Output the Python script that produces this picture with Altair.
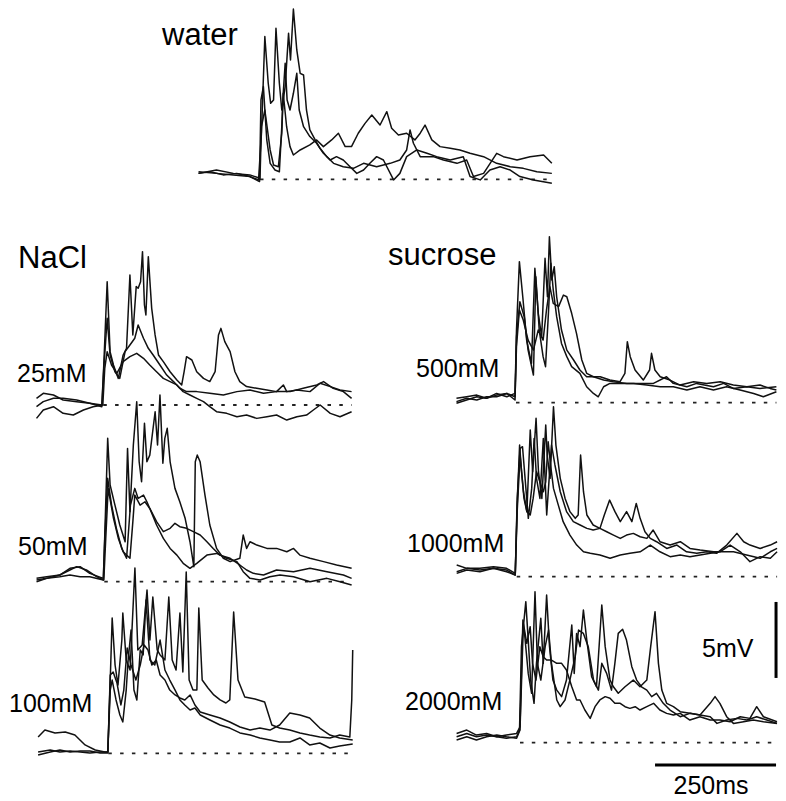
import altair as alt
import pandas as pd

FONT = "Liberation Sans, Arial, Helvetica, sans-serif"
K = 121 / 250.0   # px per ms
M = 76 / 5.0      # px per mV
W, H = 770, 781

# ---------------- data: time (ms from stimulus onset), potential (mV) ----------------
water_a = [(-127,0.39),(-103,0.50),(-76,0.29),(-48,0.39),(-21,0.18),(-3,-0.04),(3,3.03),(10,9.39),(17,6.32),(22,5.0),(28,5.22),(33,9.93),(40,6.32),(45,4.56),(52,6.10),(59,9.61),(63,7.85),(69,11.2),(76,8.51),(83,6.97),(90,6.86),(96,4.56),(103,3.25),(114,2.59),(124,2.04),(138,1.49),(152,1.05),(172,0.83),(193,0.72),(214,1.05),(241,0.83),(269,1.05),(289,1.27),(303,1.93),(310,3.25),(317,2.37),(331,1.49),(358,1.49),(379,1.27),(407,1.05),(427,1.27),(441,0.18),(462,0.39),(489,1.71),(503,1.49),(531,1.27),(558,1.49),(586,1.60),(603,1.05)]
water_b = [(-127,0.50),(-90,0.39),(-55,0.29),(-21,0.18),(-1,-0.15),(2,5.22),(7,6.10),(14,2.59),(21,1.05),(31,0.61),(40,0.50),(45,3.46),(48,5.66),(52,7.63),(56,5.22),(62,4.56),(69,5.66),(76,6.97),(81,4.56),(90,3.46),(103,2.81),(117,2.37),(131,1.71),(145,1.27),(158,1.49),(172,1.27),(186,0.83),(200,0.39),(214,0.61),(227,1.05),(241,1.49),(255,1.27),(276,-0.04),(289,0.39),(303,1.49),(324,1.93),(345,1.71),(365,1.49),(393,1.27),(420,1.49),(434,0.18),(455,-0.04),(475,0.61),(496,0.83),(517,0.61),(537,0.18),(565,-0.04),(603,-0.26)]
water_c = [(-127,0.39),(-90,0.61),(-55,0.39),(-21,0.29),(0,0.07),(3,3.46),(10,4.56),(21,1.93),(28,0.94),(38,0.83),(45,3.03),(48,5.66),(55,3.46),(62,2.15),(69,1.60),(83,1.93),(103,2.26),(117,2.59),(131,2.15),(148,2.59),(162,3.03),(176,2.15),(189,2.15),(203,3.03),(217,3.68),(231,4.23),(248,3.57),(262,4.45),(272,3.36),(286,2.92),(303,3.03),(320,2.59),(331,3.03),(341,3.57),(355,2.59),(372,2.15),(393,2.04),(413,1.93),(434,1.71),(462,1.49),(489,1.05),(517,0.83),(544,0.72),(572,0.50),(603,0.39)]

nacl25_a = [(-138,0.44),(-124,0.77),(-103,0.66),(-83,0.33),(-55,0.22),(-28,0.11),(-3,0.0),(1,2.63),(8,8.11),(14,3.51),(21,2.63),(31,1.75),(41,3.29),(48,3.73),(55,8.55),(61,4.61),(68,7.79),(72,7.68),(77,8.11),(81,10.09),(85,6.58),(88,5.92),(93,9.76),(100,6.36),(107,4.61),(114,3.29),(124,2.85),(138,2.19),(152,1.64),(162,1.32),(167,2.19),(172,3.18),(183,2.96),(193,2.19),(207,1.75),(220,1.54),(231,2.19),(238,4.61),(243,5.04),(251,4.17),(262,3.51),(272,2.19),(282,1.54),(296,1.21),(317,1.10),(338,0.99),(358,0.88),(372,1.32),(379,0.88),(400,0.99),(427,0.88),(448,1.43),(469,1.21),(489,0.99),(513,0.88)]
nacl25_b = [(-138,-0.11),(-124,0.22),(-103,0.44),(-83,0.44),(-55,0.33),(-28,0.11),(-3,-0.11),(1,2.41),(8,5.70),(14,3.29),(24,2.19),(34,1.75),(45,3.51),(55,3.95),(65,4.39),(72,5.26),(83,4.39),(93,3.73),(103,3.29),(117,2.63),(131,1.97),(145,1.54),(158,1.10),(172,0.88),(193,0.88),(220,0.77),(248,0.66),(276,0.88),(303,0.99),(331,0.77),(358,0.88),(386,0.88),(413,1.10),(441,1.32),(455,1.54),(475,1.10),(496,0.88),(513,0.44)]
nacl25_c = [(-138,-0.88),(-124,-0.33),(-103,-0.11),(-83,-0.55),(-62,-0.66),(-41,-0.33),(-21,-0.11),(-1,0.0),(3,2.41),(8,3.51),(17,2.63),(28,2.08),(41,2.85),(55,3.18),(69,3.40),(83,3.07),(96,2.63),(110,2.19),(124,1.75),(138,1.54),(152,1.32),(165,0.88),(179,0.66),(193,0.44),(207,0.22),(220,-0.11),(234,-0.44),(255,-0.55),(276,-0.77),(296,-0.66),(317,-0.88),(338,-0.77),(358,-0.66),(379,-0.99),(400,-0.77),(420,-0.66),(434,-0.33),(448,0.0),(469,-0.55),(489,-0.77),(513,-0.44)]

nacl50_a = [(-140,0.22),(-119,0.33),(-92,0.44),(-71,0.88),(-50,0.99),(-30,0.55),(-2,0.22),(1,3.07),(7,9.43),(12,6.36),(22,5.04),(32,3.73),(43,2.63),(48,8.77),(53,4.61),(60,8.99),(67,11.84),(72,7.89),(77,6.58),(83,10.42),(88,7.89),(94,8.33),(105,11.18),(110,8.99),(115,12.28),(121,7.79),(125,9.43),(130,10.09),(136,7.89),(146,6.14),(156,5.26),(167,4.17),(177,2.63),(185,0.99),(188,7.89),(192,8.33),(198,7.89),(208,5.70),(218,3.73),(232,2.19),(246,1.54),(260,1.32),(280,1.54),(287,3.07),(294,2.19),(301,2.63),(315,2.41),(336,2.19),(356,2.19),(377,1.97),(391,2.19),(404,1.75),(425,1.54),(453,1.32),(480,1.10),(511,0.88)]
nacl50_b = [(-140,0.11),(-119,0.22),(-92,0.33),(-71,0.44),(-50,0.33),(-30,0.33),(-2,0.11),(1,2.85),(7,6.80),(15,5.04),(25,3.51),(36,2.19),(46,1.54),(54,5.04),(63,6.14),(70,5.48),(81,5.70),(88,5.26),(94,4.82),(108,3.95),(122,3.29),(136,3.51),(146,3.84),(156,3.62),(170,3.51),(184,3.29),(198,3.07),(212,2.63),(225,2.19),(239,1.75),(260,1.54),(280,1.10),(294,0.77),(308,0.55),(329,0.44),(356,0.77),(391,0.66),(425,0.88),(460,0.66),(494,0.44),(511,0.22)]
nacl50_c = [(-140,0.0),(-119,0.22),(-92,0.44),(-71,0.77),(-57,0.99),(-37,0.77),(-16,0.33),(-1,0.11),(3,2.85),(8,6.14),(19,4.17),(29,2.85),(39,1.97),(53,1.54),(59,3.95),(63,5.70),(74,5.04),(84,5.26),(94,4.82),(108,3.73),(122,2.85),(136,2.19),(150,1.75),(163,1.21),(177,0.88),(191,1.21),(212,1.75),(232,1.86),(253,1.54),(274,1.32),(287,0.66),(301,0.22),(322,0.11),(342,0.33),(363,0.44),(391,0.33),(425,0.0),(460,0.22),(487,0.0),(511,-0.22)]

nacl100_a = [(-145,1.07),(-131,1.53),(-110,1.34),(-89,1.40),(-69,1.20),(-48,0.55),(-27,0.22),(-7,0.09),(-1,0.09),(4,4.82),(8,8.90),(14,5.81),(20,4.49),(28,7.45),(30,9.23),(37,6.14),(45,5.48),(55,12.19),(61,6.80),(70,7.13),(80,10.74),(86,7.45),(92,10.28),(101,6.80),(107,6.47),(117,6.14),(125,10.28),(132,6.14),(140,5.48),(148,9.23),(154,5.35),(161,11.93),(167,4.82),(175,4.16),(183,4.16),(187,9.56),(194,4.82),(206,4.30),(218,3.84),(231,3.51),(243,3.31),(251,3.51),(259,9.30),(268,4.82),(282,3.70),(303,3.57),(323,3.38),(338,1.86),(354,1.66),(375,1.53),(396,1.34),(416,1.20),(437,1.07),(458,1.01),(478,1.20),(499,1.07),(503,3.51),(505,6.80)]
nacl100_b = [(-145,0.09),(-120,0.22),(-100,0.09),(-79,0.15),(-58,0.09),(-38,0.02),(-17,0.09),(-1,0.09),(4,4.16),(8,4.82),(16,3.51),(24,2.52),(30,2.06),(37,4.16),(41,6.14),(47,8.11),(53,4.16),(59,3.51),(66,6.80),(72,6.47),(78,10.09),(86,6.14),(96,5.81),(107,7.45),(117,5.48),(127,4.82),(138,4.16),(148,3.51),(158,3.18),(169,2.85),(179,2.98),(190,2.52),(210,2.19),(231,1.86),(251,1.66),(272,1.34),(293,1.20),(313,1.01),(334,0.88),(354,0.74),(375,0.74),(396,1.01),(416,0.55),(437,0.68),(458,0.35),(478,0.48),(505,0.61)]
nacl100_c = [(-145,-0.11),(-120,0.09),(-100,0.22),(-79,0.09),(-58,0.15),(-38,0.15),(-17,0.02),(-1,0.02),(4,5.15),(10,5.35),(18,4.62),(26,3.18),(32,4.16),(39,6.93),(47,5.81),(57,4.82),(66,5.81),(74,7.13),(82,6.80),(90,5.81),(99,6.14),(107,5.15),(117,4.82),(127,4.16),(138,3.84),(148,3.64),(158,3.51),(169,3.84),(179,3.18),(190,2.72),(210,2.52),(231,2.32),(251,2.06),(272,1.73),(293,1.53),(313,1.66),(334,1.53),(354,1.86),(375,2.65),(396,2.52),(416,2.32),(437,1.66),(458,1.20),(478,1.01),(505,0.88)]

suc500_a = [(-123,0.29),(-102,0.39),(-81,0.50),(-61,0.29),(-40,0.61),(-19,0.39),(-2,0.61),(1,4.78),(7,9.28),(14,6.97),(22,4.12),(32,2.59),(39,8.84),(46,5.88),(53,4.34),(60,9.50),(65,6.97),(69,10.92),(74,8.07),(79,8.95),(84,6.97),(94,4.78),(105,3.46),(119,2.81),(132,2.15),(146,1.71),(160,1.71),(174,1.71),(194,1.49),(215,1.38),(225,1.93),(230,4.01),(236,3.03),(246,2.15),(263,1.49),(276,2.15),(280,3.25),(287,2.15),(298,1.71),(318,1.49),(339,1.16),(367,1.38),(394,1.27),(422,1.38),(449,1.16),(477,1.05),(504,1.16),(525,0.94),(538,0.83)]
suc500_b = [(-123,-0.04),(-102,0.18),(-81,0.39),(-61,0.29),(-40,0.50),(-19,0.61),(-2,0.18),(1,4.34),(8,6.64),(17,5.66),(25,3.46),(36,1.82),(41,8.29),(48,4.78),(56,3.03),(61,2.37),(67,5.88),(72,9.17),(77,7.41),(84,5.66),(94,3.90),(105,3.03),(115,2.37),(132,1.93),(146,1.05),(160,0.61),(170,0.39),(181,1.05),(194,1.27),(215,1.27),(243,1.27),(270,1.16),(298,1.05),(325,1.05),(353,0.83),(380,1.05),(408,0.83),(435,1.05),(463,0.83),(491,0.61),(511,0.39),(538,0.72)]
suc500_c = [(-123,0.07),(-102,0.29),(-81,0.18),(-61,0.39),(-40,0.39),(-19,0.61),(-2,0.39),(1,3.68),(7,6.10),(15,5.44),(25,4.12),(36,3.46),(46,4.78),(56,4.12),(63,6.10),(70,7.63),(77,6.54),(88,6.32),(98,7.08),(105,6.97),(115,5.88),(125,4.56),(136,2.81),(146,1.93),(160,1.71),(181,1.49),(201,1.38),(229,1.27),(256,1.27),(284,1.27),(311,1.71),(325,1.27),(353,1.05),(373,1.27),(408,1.05),(429,1.27),(449,0.94),(477,1.05),(504,0.94),(538,1.05)]

suc1000_a = [(-124,0.77),(-103,0.55),(-76,0.55),(-48,0.66),(-21,0.55),(-3,0.22),(1,4.71),(6,8.66),(10,6.91),(15,5.15),(21,4.28),(28,9.65),(33,6.91),(40,10.42),(45,6.91),(52,5.15),(60,9.98),(63,8.00),(69,6.47),(76,11.18),(81,8.66),(90,6.47),(100,5.15),(110,4.28),(121,3.84),(127,4.06),(132,8.00),(138,5.59),(145,4.06),(158,3.40),(172,3.18),(186,2.96),(200,2.74),(214,2.52),(227,2.74),(241,2.85),(255,2.63),(269,2.52),(282,3.07),(296,2.30),(317,2.08),(338,2.30),(358,1.86),(379,1.75),(407,1.64),(427,1.64),(448,1.64),(475,1.43),(503,1.21),(524,1.64),(538,1.86)]
suc1000_b = [(-124,0.33),(-103,0.55),(-76,0.44),(-48,0.55),(-21,0.44),(-3,0.11),(1,5.15),(7,8.44),(12,8.55),(19,5.81),(24,3.84),(31,5.81),(36,9.10),(41,6.47),(48,5.15),(55,9.10),(62,4.06),(68,6.91),(72,8.66),(79,7.35),(90,5.59),(103,4.28),(117,3.62),(131,3.40),(145,3.18),(158,3.07),(172,3.18),(181,4.06),(192,5.04),(203,4.28),(214,3.62),(227,4.28),(238,3.62),(247,4.82),(255,3.84),(265,2.96),(276,2.52),(289,2.30),(310,1.86),(331,2.08),(351,1.64),(372,1.54),(393,1.64),(413,1.54),(434,2.08),(455,2.85),(469,2.30),(482,2.08),(503,1.86),(524,2.08),(538,2.30)]
suc1000_c = [(-124,0.22),(-103,0.44),(-76,0.33),(-48,0.55),(-21,0.33),(-3,0.11),(1,4.28),(7,8.00),(14,5.59),(21,4.28),(28,4.06),(34,5.15),(41,6.91),(48,6.25),(55,5.59),(60,6.25),(65,8.88),(70,7.35),(76,5.81),(86,4.71),(96,3.62),(110,2.74),(124,2.08),(138,1.64),(152,1.54),(172,1.43),(193,1.21),(214,1.43),(234,1.54),(255,1.64),(276,2.08),(296,1.64),(317,1.32),(338,1.43),(358,1.32),(379,1.43),(400,1.54),(420,1.64),(441,2.08),(462,1.64),(482,0.99),(503,1.32),(524,1.21),(538,1.64)]

suc2000_a = [(-131,0.39),(-110,0.61),(-90,0.39),(-69,0.50),(-48,0.39),(-28,0.29),(-7,0.39),(-1,0.83),(3,6.32),(12,9.28),(17,6.75),(22,4.12),(29,2.59),(34,5.22),(43,8.18),(48,5.22),(55,9.71),(61,6.32),(68,4.12),(76,3.46),(86,3.03),(96,4.12),(107,7.74),(112,4.56),(117,7.19),(124,6.32),(131,8.73),(138,6.75),(148,4.34),(158,3.68),(169,9.06),(176,6.32),(186,4.12),(193,3.68),(203,3.25),(217,3.68),(234,4.12),(248,3.68),(262,4.12),(270,6.32),(279,8.62),(286,5.22),(293,3.46),(303,2.59),(317,2.37),(331,2.04),(351,1.93),(372,1.82),(393,1.71),(407,1.27),(427,1.49),(448,1.60),(469,1.49),(489,1.71),(510,1.49),(531,1.27)]
suc2000_b = [(-131,0.61),(-110,0.83),(-90,0.50),(-69,0.61),(-48,0.39),(-28,0.50),(-7,0.61),(0,1.05),(6,8.07),(10,6.97),(17,4.56),(24,3.25),(31,9.93),(36,5.22),(43,4.12),(52,6.32),(59,7.41),(65,5.22),(76,2.81),(83,2.37),(93,2.81),(103,4.12),(114,5.66),(121,7.41),(131,7.19),(141,6.32),(152,4.12),(162,3.46),(169,5.22),(179,4.56),(189,3.46),(196,5.22),(203,7.19),(212,7.46),(220,6.75),(231,5.00),(241,4.12),(251,3.68),(262,3.46),(272,3.03),(282,3.25),(296,2.59),(310,2.15),(331,1.71),(351,1.93),(372,1.82),(393,2.59),(403,3.03),(413,2.59),(427,1.71),(441,1.27),(462,1.38),(482,1.49),(503,1.38),(531,1.27)]
suc2000_c = [(-131,0.18),(-110,0.39),(-90,0.18),(-69,0.39),(-48,0.50),(-28,0.39),(-7,0.29),(0,0.83),(7,7.85),(14,6.54),(21,7.63),(26,5.22),(33,4.12),(41,6.32),(48,5.66),(55,5.44),(65,5.44),(76,5.22),(86,5.22),(96,4.78),(107,3.68),(117,2.81),(124,2.81),(134,2.15),(145,1.60),(155,2.37),(165,2.81),(176,3.03),(186,2.92),(196,2.59),(207,2.59),(217,2.37),(227,2.26),(238,2.37),(248,2.15),(262,2.37),(276,2.59),(289,2.15),(303,1.93),(317,1.82),(331,1.93),(351,1.49),(372,1.71),(393,1.49),(413,1.49),(434,1.38),(455,1.71),(475,1.60),(489,2.37),(503,1.71),(531,1.38)]

scale_ms = [250]
scale_mv = [5]

# ---------------- helpers ----------------
def frame(traces):
    rows = []
    for i, tr in enumerate(traces):
        for j, (t, v) in enumerate(tr):
            rows.append({"trace": i, "idx": j, "t": t, "v": v})
    return pd.DataFrame(rows)


def text_layer(txt, x, y, size, align="left", baseline="alphabetic"):
    return alt.Chart(pd.DataFrame({"a": [0]})).mark_text(
        text=txt, align=align, baseline=baseline, fontSize=size,
        font=FONT, color="#000"
    ).encode(x=alt.value(x), y=alt.value(y))


def panel(traces, onset_px, base_px, extra=None):
    """One group of traces; onset_px/base_px = where t=0 and v=0 sit on the canvas."""
    xs = alt.Scale(domain=[-onset_px / K, (W - onset_px) / K], nice=False, zero=False)
    ys = alt.Scale(domain=[-(H - base_px) / M, base_px / M], nice=False, zero=False)
    df = frame(traces)
    end = max(t for tr in traces for t, _ in tr)
    base = alt.Chart(pd.DataFrame({"t0": [0], "t1": [end], "v": [0]})).mark_rule(
        strokeDash=[3.5, 8.3], strokeWidth=1.8, color="#222"
    ).encode(
        x=alt.X("t0:Q", scale=xs, axis=None), x2="t1:Q",
        y=alt.Y("v:Q", scale=ys, axis=None),
    )
    lines = alt.Chart(df).mark_line(
        color="#111", strokeWidth=1.5, strokeJoin="round"
    ).encode(
        x=alt.X("t:Q", scale=xs, axis=None),
        y=alt.Y("v:Q", scale=ys, axis=None),
        detail="trace:N", order="idx:Q",
    )
    layers = [base, lines]
    if extra is not None:
        layers += extra(xs, ys)
    return alt.layer(*layers)


def scale_bars(xs, ys):
    t_end = 529
    hb = alt.Chart(pd.DataFrame({"t0": [t_end - scale_ms[0]], "t1": [t_end], "v": [-1.47]})).mark_rule(
        strokeWidth=3, color="#000"
    ).encode(x=alt.X("t0:Q", scale=xs, axis=None), x2="t1:Q", y=alt.Y("v:Q", scale=ys, axis=None))
    vb = alt.Chart(pd.DataFrame({"t": [t_end], "v0": [4.26], "v1": [4.26 + scale_mv[0]]})).mark_rule(
        strokeWidth=3, color="#000"
    ).encode(x=alt.X("t:Q", scale=xs, axis=None), y=alt.Y("v0:Q", scale=ys, axis=None), y2="v1:Q")
    return [hb, vb]


HF, LF = 31, 25

panels = [
    panel([water_a, water_b, water_c], 252, 171.3),
    panel([nacl25_a, nacl25_b, nacl25_c], 95.3, 397),
    panel([nacl50_a, nacl50_b, nacl50_c], 96.3, 573.7),
    panel([nacl100_a, nacl100_b, nacl100_c], 100.3, 745.3),
    panel([suc500_a, suc500_b, suc500_c], 508, 394.7),
    panel([suc1000_a, suc1000_b, suc1000_c], 508.7, 568.7),
    panel([suc2000_a, suc2000_b, suc2000_c], 512, 734.7, extra=scale_bars),
]

texts = [
    text_layer("water", 154, 37, HF),
    text_layer("NaCl", 10, 260, HF),
    text_layer("25mM", 9, 374, LF),
    text_layer("50mM", 10, 547, LF),
    text_layer("100mM", 1, 704, LF),
    text_layer("sucrose", 380, 257, HF),
    text_layer("500mM", 408, 369, LF),
    text_layer("1000mM", 399, 544, LF),
    text_layer("2000mM", 397, 702, LF),
    text_layer("5mV", 694, 649, LF),
    text_layer("250ms", 703, 786, LF, "center"),
]

chart = alt.layer(*panels, *texts).resolve_scale(
    x="independent", y="independent"
).properties(width=W, height=H, padding=0, background="white").configure_view(stroke=None)

chart.save("out.html", embed_options={"renderer": "svg", "actions": False})
